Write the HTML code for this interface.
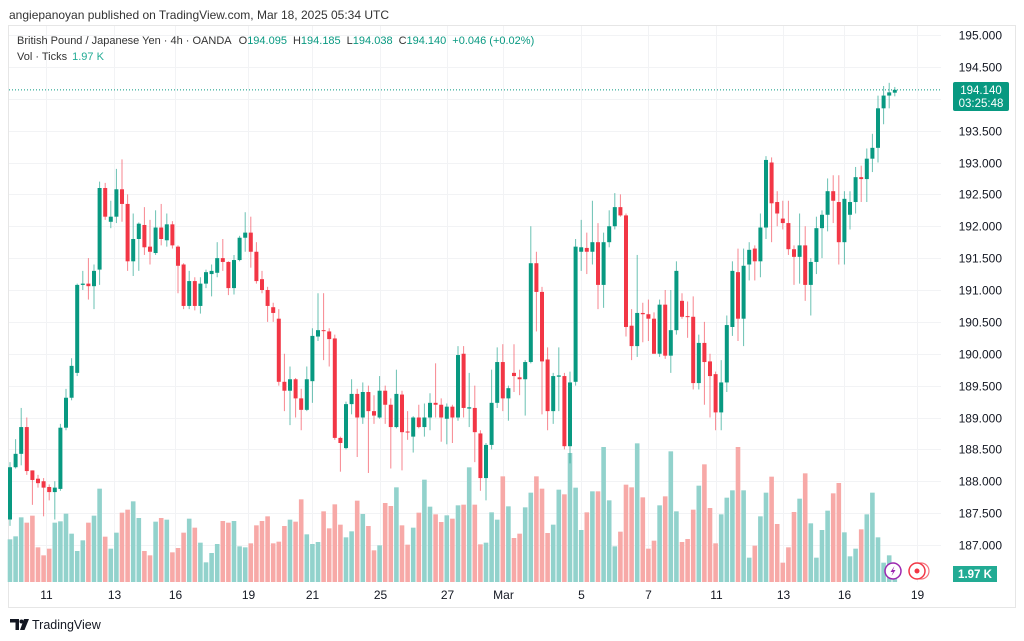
<!DOCTYPE html>
<html><head><meta charset="utf-8"><style>
html,body{margin:0;padding:0;background:#fff;}
svg{display:block;font-family:"Liberation Sans",sans-serif;}
</style></head><body>
<svg id="chart" width="1024" height="641" viewBox="0 0 1024 641" xmlns="http://www.w3.org/2000/svg">
<rect x="0" y="0" width="1024" height="641" fill="#ffffff"/>
<text x="9" y="19" font-size="12" fill="#333">angiepanoyan published on TradingView.com, Mar 18, 2025 05:34 UTC</text>
<rect x="8.5" y="25.5" width="1007" height="582" fill="none" stroke="#e6e6e6"/>
<g id="grid"></g>
<g id="vol"></g>
<line id="lastline" x1="9" x2="941" stroke="#089981" stroke-width="1" stroke-dasharray="1,2"/>
<g id="candles"></g>
<g id="yaxis"></g>
<g id="xaxis"></g>
<text x="17" y="44" font-size="11" fill="#333">British Pound / Japanese Yen · 4h · OANDA<tspan dx="7">O</tspan><tspan fill="#089981">194.095</tspan><tspan dx="6">H</tspan><tspan fill="#089981">194.185</tspan><tspan dx="6">L</tspan><tspan fill="#089981">194.038</tspan><tspan dx="6">C</tspan><tspan fill="#089981">194.140</tspan><tspan dx="6" fill="#089981">+0.046 (+0.02%)</tspan></text>
<text x="17" y="60" font-size="11" fill="#333">Vol · Ticks<tspan dx="5" fill="#22ab94">1.97 K</tspan></text>
<g>
<rect x="953" y="82" width="56" height="29" rx="2" fill="#089981"/>
<text x="981" y="94" font-size="11.5" fill="#fff" text-anchor="middle">194.140</text>
<text x="981" y="107" font-size="11.5" fill="#fff" text-anchor="middle">03:25:48</text>
</g>
<g>
<rect x="953" y="566" width="44" height="16" fill="#22ab94"/>
<text x="975" y="578" font-size="11.5" font-weight="bold" fill="#fff" text-anchor="middle">1.97 K</text>
</g>
<g>
<circle cx="893" cy="571" r="8" fill="#fff" stroke="#9c27b0" stroke-width="1.5"/>
<path d="M894.5 566 L890.5 572 L893 572 L891.5 576 L895.5 570 L893 570 Z" fill="#9c27b0"/>
</g>
<g>
<circle cx="921" cy="571" r="8" fill="#fff" stroke="#f23645" stroke-width="1.2" opacity="0.7"/>
<circle cx="917" cy="571" r="8" fill="#fff" stroke="#f23645" stroke-width="1.5"/>
<circle cx="917" cy="571" r="2.5" fill="#f23645"/>
</g>
<g>
<path d="M10 619 H19 V630 H15.5 V622.5 H10 Z" fill="#131722"/>
<circle cx="21.5" cy="621.5" r="2" fill="#131722"/>
<path d="M24 619 H29 L24.5 630 H20 Z" fill="#131722"/>
<text x="32" y="629" font-size="12.5" fill="#131722">TradingView</text>
</g>
</svg>
<script>
const opens=[187.4,188.22,188.43,188.85,188.17,188.04,188.0,187.91,187.83,187.88,188.84,189.31,189.7,191.08,191.1,191.06,191.32,192.6,192.07,192.15,192.58,192.35,191.45,191.8,192.02,191.68,191.58,191.98,191.78,192.03,191.68,191.4,190.75,191.14,190.75,191.1,191.25,191.27,191.5,191.44,191.03,191.47,191.82,191.9,191.6,191.17,191.0,190.73,190.55,189.56,189.42,189.6,189.3,189.12,189.57,190.27,190.37,190.35,190.24,188.68,188.52,189.21,189.37,189.0,189.4,189.1,189.0,189.42,189.2,188.85,189.36,188.78,188.7,189.0,188.85,189.0,189.23,189.2,188.98,189.17,189.0,190.0,189.14,189.15,188.75,188.05,188.57,189.23,189.87,189.3,189.7,189.63,189.6,189.87,191.42,190.97,189.91,189.1,189.64,189.65,188.55,189.56,191.6,191.66,191.6,191.75,191.08,191.75,192.0,192.3,192.17,190.44,190.12,190.64,190.62,190.55,190.0,190.77,189.97,190.37,190.83,190.59,190.58,189.54,190.17,189.88,189.68,189.08,189.55,190.42,191.28,190.55,191.4,191.65,191.45,191.98,193.0,192.38,192.12,192.05,191.64,191.52,191.7,191.08,191.44,191.97,192.18,192.55,192.38,191.75,192.18,192.38,192.77,192.74,193.06,193.23,193.85,194.05,194.095];
const highs=[188.3,188.66,189.15,189.0,188.17,188.1,188.05,187.95,188.0,188.9,189.45,189.93,191.1,191.3,191.5,191.4,192.7,192.68,192.4,192.9,193.05,192.5,192.2,192.06,192.3,192.1,192.25,192.35,192.2,192.08,191.7,191.42,191.3,191.2,191.2,191.32,191.4,191.75,191.8,191.45,191.55,191.85,192.22,192.15,191.75,191.3,191.05,190.8,190.7,190.0,189.8,189.62,189.45,189.8,190.4,190.95,190.95,190.4,190.3,188.7,189.25,189.6,189.45,189.55,189.5,189.35,189.65,189.5,189.3,189.75,189.42,189.1,189.02,189.2,189.22,189.38,189.85,189.3,189.22,189.2,190.12,190.12,189.7,189.5,188.8,188.6,189.75,190.1,190.15,189.5,190.15,189.75,189.9,192.0,191.6,191.05,190.1,189.7,190.1,189.7,189.72,191.8,192.1,191.9,192.4,192.05,191.9,192.25,192.52,192.5,192.2,190.7,191.55,190.8,190.85,190.65,190.85,191.0,191.0,191.45,190.95,190.82,190.9,190.3,190.5,190.0,189.72,189.9,190.6,191.45,191.65,191.65,191.75,191.7,192.2,193.1,193.08,192.55,192.4,192.4,191.7,192.2,192.0,191.5,192.15,192.25,192.75,192.8,192.8,192.55,192.55,192.93,192.95,193.22,193.45,194.05,194.2,194.25,194.185];
const lows=[187.3,188.2,188.25,188.1,187.63,187.9,187.45,187.7,187.4,187.85,188.8,189.27,189.65,191.0,190.85,190.7,191.08,192.1,191.97,192.05,192.07,191.3,191.22,191.3,191.55,191.4,191.55,191.7,191.68,191.65,190.95,190.7,190.7,190.68,190.63,191.03,190.9,191.2,191.3,190.92,190.93,191.45,191.6,191.35,191.1,190.95,190.5,190.5,189.5,189.1,188.88,189.0,188.8,189.1,189.23,190.2,189.9,189.8,188.65,188.15,188.5,189.05,188.38,188.9,188.13,188.9,188.98,188.9,188.2,188.83,188.17,188.65,188.45,188.83,188.7,188.8,189.0,188.62,188.58,188.6,188.95,189.0,188.85,188.3,187.85,187.7,188.5,189.15,189.1,188.95,189.4,189.35,189.03,189.85,190.35,189.05,188.8,188.9,189.1,188.5,188.28,189.5,191.3,191.25,191.4,190.7,190.72,191.67,191.95,192.15,190.27,189.9,189.95,190.18,190.2,190.0,189.95,189.92,189.7,190.3,190.55,190.25,189.44,189.44,189.2,189.0,188.8,188.8,189.4,190.28,190.2,190.12,191.15,191.15,191.2,191.8,191.75,192.0,191.95,191.55,191.08,191.1,190.83,190.6,191.25,191.5,191.92,192.05,191.4,191.4,191.95,192.2,192.38,192.38,192.85,193.0,193.6,193.85,194.038];
const closes=[188.22,188.43,188.85,188.16,188.02,187.97,187.9,187.83,187.9,188.84,189.31,189.81,191.08,191.1,191.06,191.3,192.6,192.15,192.15,192.58,192.35,191.45,191.8,192.04,191.67,191.6,191.98,191.8,192.03,191.7,191.38,190.75,191.14,190.75,191.1,191.28,191.3,191.5,191.44,191.03,191.47,191.82,191.9,191.6,191.14,191.0,190.75,190.64,189.56,189.42,189.6,189.3,189.12,189.6,190.28,190.37,190.36,190.23,188.68,188.6,189.21,189.37,189.0,189.4,189.1,189.03,189.42,189.2,188.85,189.37,188.77,188.77,189.0,188.85,189.0,189.23,189.2,189.0,189.17,189.0,189.98,189.15,189.16,188.77,188.05,188.57,189.23,189.87,189.3,189.46,189.65,189.6,189.87,191.42,190.97,189.88,189.1,189.65,189.66,188.55,189.55,191.68,191.67,191.6,191.75,191.08,191.75,192.0,192.3,192.17,190.42,190.12,190.64,190.62,190.55,190.0,190.77,189.97,190.37,191.3,190.58,190.58,189.54,190.17,189.87,189.65,189.08,189.55,190.45,191.3,190.55,191.38,191.63,191.45,191.98,193.04,192.36,192.2,192.05,191.64,191.52,191.7,191.08,191.44,191.97,192.18,192.55,192.4,191.75,192.43,192.38,192.77,192.74,193.06,193.23,193.85,194.05,194.1,194.14];
const volumes=[128,137,194,178,199,104,80,100,178,182,205,145,93,125,178,199,280,136,100,148,208,217,242,192,93,80,181,192,187,89,102,148,190,163,118,59,87,114,183,178,183,107,104,116,170,183,197,116,121,168,187,181,248,143,114,120,212,161,233,172,134,152,244,204,168,95,110,237,228,284,170,112,163,208,307,226,203,180,200,190,230,232,344,232,113,118,209,187,317,227,132,145,224,268,317,280,147,172,277,263,387,283,156,209,272,272,405,245,107,151,292,284,416,254,100,124,230,257,392,212,120,129,217,289,353,222,116,203,253,275,405,275,73,109,197,268,316,174,58,104,210,250,326,176,73,156,214,266,297,149,77,100,158,203,268,134,58,80,30];
const priceTicks=[195,194.5,194,193.5,193,192.5,192,191.5,191,190.5,190,189.5,189,188.5,188,187.5,187];
const timeLabels=["11","13","16","19","21","25","27","Mar","5","7","11","13","16","19"];
const timeLabelIndex=[6.5,18.5,29.5,42.5,54,66,78,88,102,114,126,138,149,162];
const lastPrice=194.14;

const NS="http://www.w3.org/2000/svg";
const xOf=i=>10+i*5.6;
const yOf=p=>35+(195-p)*63.75;
const volBase=582;
const yV=v=>volBase-v/3;
function mk(tag,attrs,parent){const e=document.createElementNS(NS,tag);for(const k in attrs)e.setAttribute(k,attrs[k]);parent.appendChild(e);return e;}
const grid=document.getElementById('grid'),vol=document.getElementById('vol'),cg=document.getElementById('candles'),ya=document.getElementById('yaxis'),xa=document.getElementById('xaxis');
priceTicks.forEach(p=>{
  const y=Math.round(yOf(p))+0.5;
  const l=mk('line',{x1:9,x2:941,y1:y,y2:y,stroke:'#f2f3f5'},grid);
  
  
  const t=mk('text',{x:1002,y:y+4,'font-size':12,fill:'#131722','text-anchor':'end'},ya);
  t.textContent=p.toFixed(3);
  
  
});
timeLabels.forEach((s,k)=>{
  const x=Math.round(xOf(timeLabelIndex[k]))+0.5;
  const l=mk('line',{x1:x,x2:x,y1:26,y2:582,stroke:'#f2f3f5'},grid);
  
  
  const t=mk('text',{x:x,y:599,'font-size':12,fill:'#131722','text-anchor':'middle'},xa);
  t.textContent=s;
  
  
});
for(let i=0;i<closes.length;i++){
  const up=closes[i]>=opens[i];
  const x=xOf(i);
  const vt=yV(volumes[i]);
  const vb=mk('rect',{x:x-2.3,y:vt,width:4.6,height:volBase-vt,fill:up?'#92d2cc':'#f7a9a7'},vol);
  
  
  const col=up?'#089981':'#f23645';
  const w=mk('line',{x1:x,x2:x,y1:yOf(highs[i]),y2:yOf(lows[i]),stroke:col,'stroke-width':1,opacity:0.6},cg);
  
  
  const top=yOf(Math.max(opens[i],closes[i])),bot=yOf(Math.min(opens[i],closes[i]));
  const b=mk('rect',{x:x-2,y:top,width:4,height:Math.max(1,bot-top),fill:col},cg);
  
  
}
const ll=document.getElementById('lastline');
ll.setAttribute('y1',yOf(lastPrice));ll.setAttribute('y2',yOf(lastPrice));
</script>
</body></html>
